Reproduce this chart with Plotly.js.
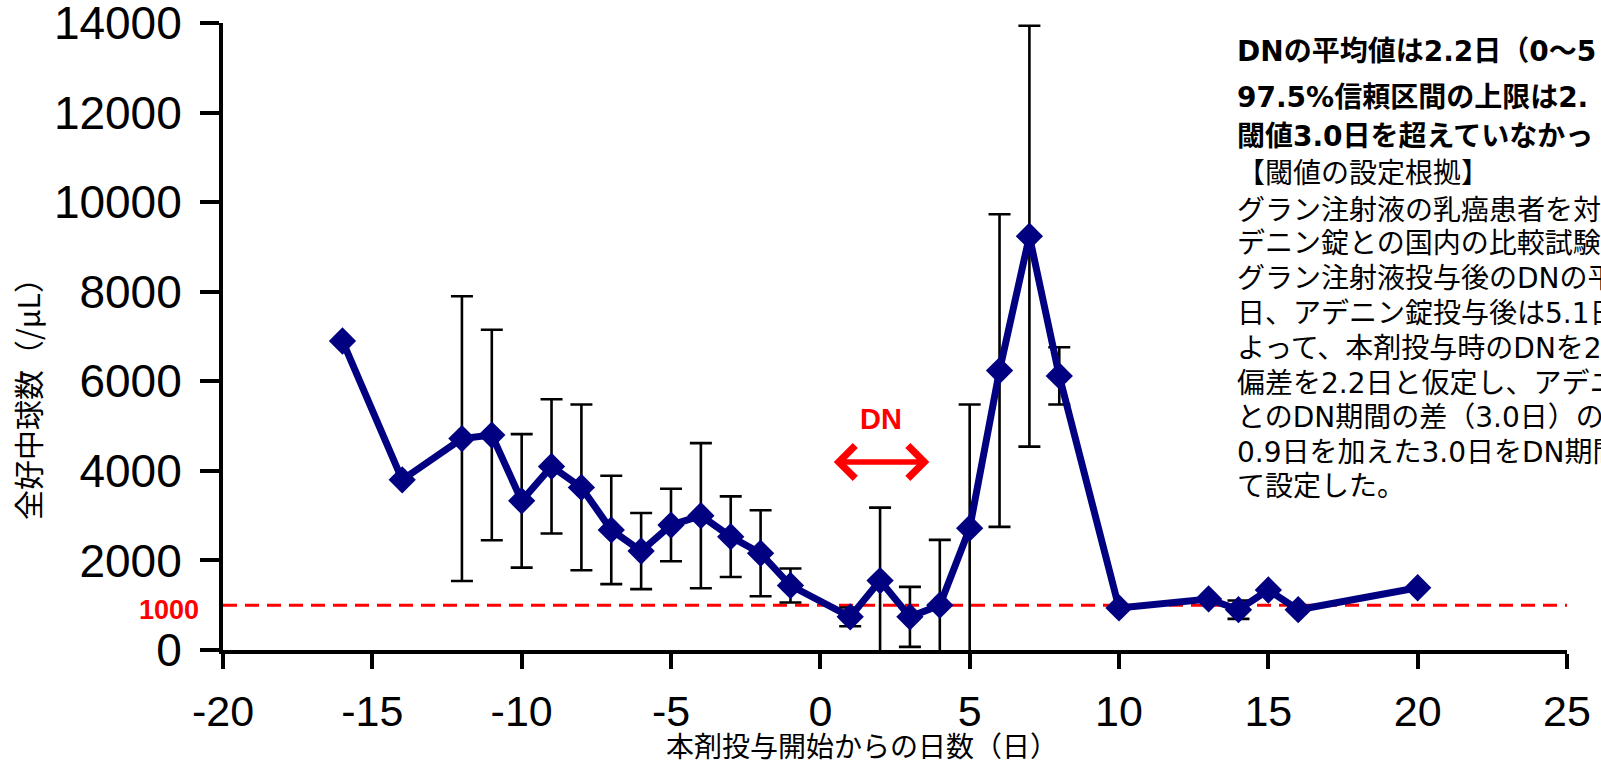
<!DOCTYPE html>
<html><head><meta charset="utf-8">
<script src="https://cdn.plot.ly/plotly-3.0.1.min.js"></script>
<style>body{margin:0;padding:0;background:#fff}#chart{width:1601px;height:764px}</style>
</head><body><div id="chart"></div>
<script>
const days = [-16,-14,-12,-11,-10,-9,-8,-7,-6,-5,-4,-3,-2,-1,1,2,3,4,5,6,7,8,10,13,14,15,16,20];
const anc = [6900,3800,4720,4800,3330,4100,3630,2680,2210,2790,3000,2530,2160,1440,740,1550,740,1000,2720,6240,9240,6120,940,1140,900,1340,900,1390];
const ancSD = [null,null,3180,2350,1490,1500,1850,1210,850,810,1620,900,960,380,210,1630,670,1460,2760,3490,4700,640,null,null,205,null,null,null];
const xTicks = [-20,-15,-10,-5,0,5,10,15,20,25];
const yTicks = [0,2000,4000,6000,8000,10000,12000,14000];
const threshold = 1000;
const dnArrow = {from: 0.4, to: 3.65, y: 4200, labelY: 5150};
const xTitle = '本剤投与開始からの日数（日）';
const yTitle = '全好中球数（/μL）';
const boldLines = ['DNの平均値は2.2日（0〜5','97.5%信頼区間の上限は2.','閾値3.0日を超えていなかっ'];
const normalLines = ['【閾値の設定根拠】','グラン注射液の乳癌患者を対','デニン錠との国内の比較試験','グラン注射液投与後のDNの平','日、アデニン錠投与後は5.1日','よって、本剤投与時のDNを2.','偏差を2.2日と仮定し、アデニン','とのDN期間の差（3.0日）の30','0.9日を加えた3.0日をDN期間','て設定した。'];

const W = 1601, H = 764;
const L = 223, R = 34, T = 23, B = 114;
const pw = W - L - R, ph = H - T - B;
function px2paperX(px){ return (px - L)/pw; }
function px2paperY(py){ return (H - B - py)/ph; }
const textFont = "'DejaVu Sans', 'Noto Sans CJK JP', sans-serif";

const trace = {
  x: days, y: anc, type: 'scatter', mode: 'lines+markers',
  line: {color: '#000080', width: 7},
  marker: {symbol: 'diamond', size: 21, color: '#000080'},
  error_y: {type: 'data', array: ancSD, visible: true, color: '#000000', thickness: 2.6, width: 11},
  cliponaxis: false, hoverinfo: 'skip'
};

const annotations = [];
annotations.push({xref:'paper', yref:'paper', x: px2paperX(862), y: px2paperY(745), text: xTitle, showarrow:false,
  font:{family:'Noto Sans CJK JP', size:28, color:'#000'}, xanchor:'center', yanchor:'middle'});
annotations.push({xref:'paper', yref:'paper', x: px2paperX(27), y: px2paperY(392), text: yTitle, showarrow:false, textangle:-90,
  font:{family:'Noto Sans CJK JP', size:30, color:'#000'}, xanchor:'center', yanchor:'middle'});
annotations.push({xref:'paper', yref:'y', x: px2paperX(201), y: threshold, yshift:-5, text: String(threshold), showarrow:false,
  font:{family:'Liberation Sans', size:27, color:'#ff0000', weight:'bold'}, xanchor:'right', yanchor:'middle'});
annotations.push({xref:'x', yref:'y', x: (dnArrow.from+dnArrow.to)/2, y: dnArrow.labelY, text: '<b>DN</b>', showarrow:false,
  font:{family:'Liberation Sans', size:29, color:'#ff0000'}, xanchor:'center', yanchor:'middle'});
annotations.push({xref:'x', yref:'y', axref:'x', ayref:'y', x: dnArrow.to, y: dnArrow.y, ax: dnArrow.from, ay: dnArrow.y,
  text:'', showarrow:true, arrowhead:4, startarrowhead:4, arrowside:'end+start', arrowsize:1.15, startarrowsize:1.15, arrowwidth:5.5, arrowcolor:'#ff0000'});

const textX = px2paperX(1235);
const boldY = [52, 97, 137];
const normY = [173, 210, 243, 278, 313, 348, 383, 418, 453, 487];
boldLines.forEach((t,i)=>annotations.push({xref:'paper', yref:'paper', x:textX, y:px2paperY(boldY[i]), text:'<b>'+t+'</b>', showarrow:false,
  xanchor:'left', yanchor:'middle', font:{family:textFont, size:28, color:'#000'}}));
normalLines.forEach((t,i)=>annotations.push({xref:'paper', yref:'paper', x:textX, y:px2paperY(normY[i]), text:t, showarrow:false,
  xanchor:'left', yanchor:'middle', font:{family:textFont, size:28, color:'#000'}}));

const layout = {
  width: W, height: H,
  margin: {l:L, r:R, t:T, b:B, pad:0},
  paper_bgcolor:'#fff', plot_bgcolor:'#fff',
  showlegend:false,
  xaxis: {range:[-20,25], tickvals:xTicks, ticktext:xTicks.map(String), showgrid:false, zeroline:false,
    showline:true, linecolor:'#000', linewidth:4, ticks:'outside', ticklen:15, tickwidth:4, tickcolor:'#000',
    tickfont:{family:'Liberation Sans', size:43, color:'#000'}, ticklabelstandoff:5, ticklabeloverflow:'allow', fixedrange:true},
  yaxis: {range:[0,14000], tickvals:yTicks, ticktext:yTicks.map(String), showgrid:false, zeroline:false,
    showline:true, linecolor:'#000', linewidth:4, ticks:'outside', ticklen:19, tickwidth:4, tickcolor:'#000',
    tickfont:{family:'Liberation Sans', size:46, color:'#000'}, ticklabelstandoff:9, ticklabeloverflow:'allow', fixedrange:true},
  shapes: [{type:'line', xref:'paper', yref:'y', x0:0, x1:1, y0:threshold, y1:threshold,
    line:{color:'#ff0000', width:3, dash:'14px,8px'}, layer:'below'}],
  annotations: annotations
};

Plotly.newPlot('chart', [trace], layout, {staticPlot:true, displayModeBar:false});
</script>
</body></html>
